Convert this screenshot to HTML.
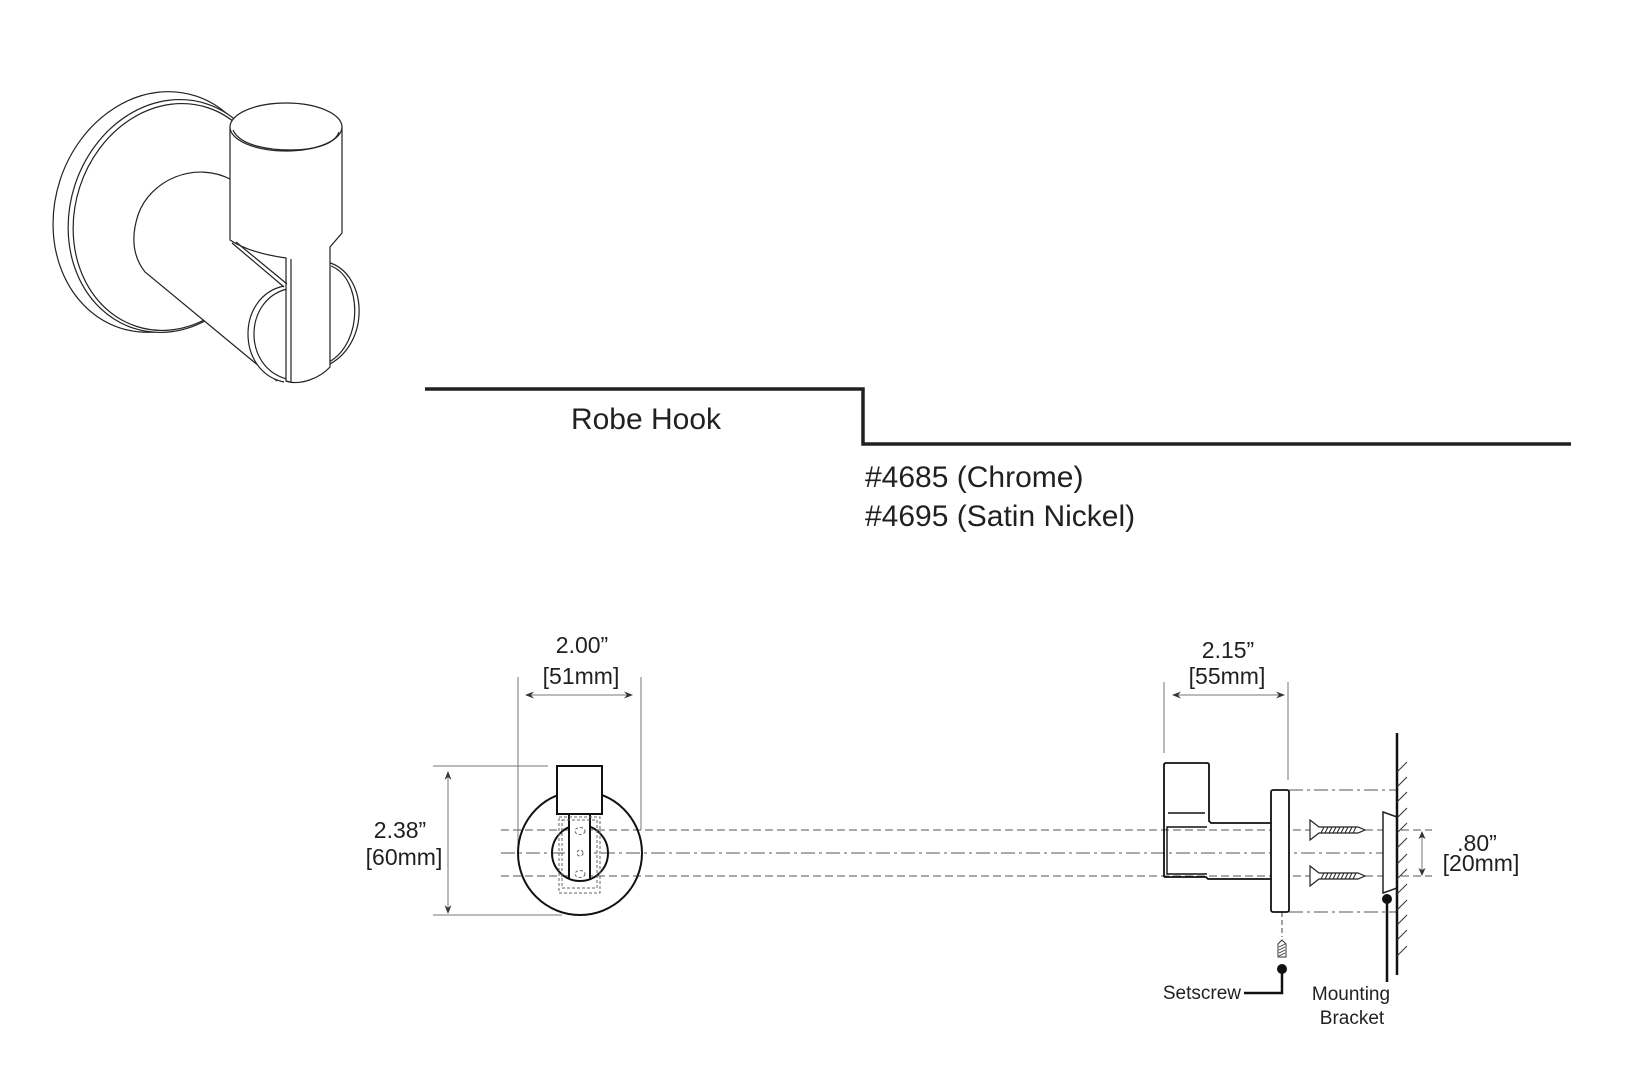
<!DOCTYPE html>
<html><head><meta charset="utf-8"><style>
html,body{margin:0;padding:0;background:#fff;}
svg{display:block;}
text{font-family:"Liberation Sans",Arial,sans-serif;fill:#231f20;}
</style></head><body>
<svg width="1625" height="1080" viewBox="0 0 1625 1080" xmlns="http://www.w3.org/2000/svg">
<rect width="1625" height="1080" fill="#fff"/>

<!-- ISO drawing -->
<g stroke="#222" stroke-width="1.2" fill="#fff">
  <ellipse cx="158" cy="212" rx="103" ry="122" transform="rotate(18 158 212)"/>
  <ellipse cx="170" cy="216" rx="100" ry="118" transform="rotate(18 170 216)"/>
  <ellipse cx="172" cy="217" rx="97" ry="115" transform="rotate(18 172 217)" fill="none"/>
  <path d="M232,180 C195,160 150,180 138,215 C130,240 134,258 145,272 L277,381 L330,367 L342,233 L342,180 Z" stroke="none"/>
  <path d="M232,180 C195,160 150,180 138,215 C130,240 134,258 145,272 L277,381" fill="none"/>
  <path d="M327,262 C368,272 372,345 326,366"/>
  <path d="M331,266 C362,278 364,342 329,362" fill="none"/>
  <path d="M284,286 C236,296 236,372 284,382"/>
  <path d="M287,289 C243,300 243,368 287,379" fill="none"/>
  <path d="M230,127 L230,240 C245,250 265,255 286,258 L286,381 C300,386 320,378 330,367 L330,247 L342,233 L342,127 Z"/>
  <path d="M291,259 L291,382" fill="none"/>
  <path d="M232,243 L284,287 M236,242 L287,284" fill="none"/>
  <ellipse cx="286" cy="127" rx="56" ry="24"/>
  <path d="M233,130 C240,146 270,150 290,150 C315,150 335,144 339,132" fill="none"/>
</g>

<!-- Title -->
<path d="M425,389 L863,389 L863,444 L1571,444" fill="none" stroke="#231f20" stroke-width="3.5"/>
<text x="646" y="429" font-size="30" text-anchor="middle">Robe Hook</text>
<text x="865" y="487" font-size="30">#4685 (Chrome)</text>
<text x="865" y="526" font-size="30">#4695 (Satin Nickel)</text>

<!-- Dashed centre lines -->
<g fill="none" stroke="#555" stroke-width="1.1">
  <path d="M501,830 H1432 M501,876 H1432" stroke-dasharray="8 4"/>
  <path d="M501,853 H1383" stroke-dasharray="14 4 3 4"/>
  <path d="M1289,790 H1397 M1289,912 H1397" stroke-dasharray="14 4 3 4"/>
  <path d="M1282,912 V937" stroke-dasharray="5 3"/>
</g>

<!-- Front view dims -->
<g fill="none" stroke="#777" stroke-width="1">
  <path d="M518,677 V845 M641,677 V830"/>
  <path d="M433,766 H548 M433,915 H562"/>
  <path d="M527,695 H631"/>
  <path d="M448,774 V911"/>
  <path d="M1164,682 V753 M1288,682 V780"/>
  <path d="M1174,695 H1283"/>
  <path d="M1422,833 V873"/>
</g>
<g fill="#333">
  <polygon points="525,695 534,691.5 531,695 534,698.5"/>
  <polygon points="633,695 624,691.5 627,695 624,698.5"/>
  <polygon points="448,771 444.5,780 448,777 451.5,780"/>
  <polygon points="448,914 444.5,905 448,908 451.5,905"/>
  <polygon points="1172,695 1181,691.5 1178,695 1181,698.5"/>
  <polygon points="1285,695 1276,691.5 1279,695 1276,698.5"/>
  <polygon points="1422,831 1418.5,839 1422,837 1425.5,839"/>
  <polygon points="1422,876 1418.5,868 1422,870 1425.5,868"/>
</g>

<text x="582" y="653" font-size="23" text-anchor="middle">2.00”</text>
<text x="581" y="684" font-size="23" text-anchor="middle">[51mm]</text>
<text x="400" y="838" font-size="23" text-anchor="middle">2.38”</text>
<text x="404" y="865" font-size="23" text-anchor="middle">[60mm]</text>
<text x="1228" y="658" font-size="23" text-anchor="middle">2.15”</text>
<text x="1227" y="684" font-size="23" text-anchor="middle">[55mm]</text>
<text x="1477" y="851" font-size="23" text-anchor="middle">.80”</text>
<text x="1481" y="871" font-size="23" text-anchor="middle">[20mm]</text>

<!-- Front view part -->
<g fill="none" stroke="#111" stroke-width="2">
  <circle cx="580" cy="853" r="62"/>
  <circle cx="580" cy="853" r="28"/>
</g>
<rect x="570" y="814" width="19" height="64" fill="#fff"/>
<g fill="none" stroke="#111" stroke-width="2">
  <path d="M569,814 V879 M590,814 V879"/>
  <rect x="557" y="766" width="45" height="48" fill="#fff"/>
</g>
<g fill="none" stroke="#666" stroke-width="1" stroke-dasharray="3 2">
  <rect x="559" y="817" width="41" height="76"/>
  <rect x="562" y="820" width="35" height="68"/>
  <ellipse cx="580" cy="831" rx="5" ry="3.5"/>
  <ellipse cx="580" cy="874" rx="5" ry="3.5"/>
  <circle cx="580" cy="853" r="3"/>
</g>

<!-- Side view -->
<g fill="none" stroke="#111" stroke-width="1.8">
  <path d="M1164,877 V765 Q1164,763 1166,763 H1207 Q1209,763 1209,765 V821 L1211,823 H1271"/>
  <path d="M1164,877 H1206 L1208,879 H1271"/>
  <path d="M1207,827 H1167 V874 H1207" stroke-width="1.4"/>
  <path d="M1168,813 H1205" stroke-width="1.6"/>
  <rect x="1271" y="790" width="18" height="122" rx="2" fill="#fff"/>
</g>

<!-- Screws -->
<g fill="#fff" stroke="#222" stroke-width="1.2">
  <path d="M1310,820 V840 L1319,833 H1358 L1365,830 L1358,827 H1319 Z"/>
  <path d="M1310,866 V886 L1319,879 H1358 L1365,876 L1358,873 H1319 Z"/>
</g>
<g stroke="#222" stroke-width="1">
  <path d="M1321,833 L1324,827 M1325,833 L1328,827 M1329,833 L1332,827 M1333,833 L1336,827 M1337,833 L1340,827 M1341,833 L1344,827 M1345,833 L1348,827 M1349,833 L1352,827 M1353,833 L1356,827"/>
  <path d="M1321,879 L1324,873 M1325,879 L1328,873 M1329,879 L1332,873 M1333,879 L1336,873 M1337,879 L1340,873 M1341,879 L1344,873 M1345,879 L1348,873 M1349,879 L1352,873 M1353,879 L1356,873"/>
</g>

<!-- Mounting bracket and wall -->
<path d="M1397,817 L1383,812 V893 L1397,888" fill="#fff" stroke="#222" stroke-width="1.5"/>
<path d="M1397,733 V975" stroke="#111" stroke-width="2.5"/>
<g stroke="#333" stroke-width="1">
  <path d="M1397,772 l10,-10 M1397,787 l10,-10 M1397,802 l10,-10 M1397,818 l10,-10 M1397,833 l10,-10 M1397,848 l10,-10 M1397,864 l10,-10 M1397,879 l10,-10 M1397,894 l10,-10 M1397,910 l10,-10 M1397,925 l10,-10 M1397,940 l10,-10 M1397,956 l10,-10"/>
</g>
<circle cx="1387" cy="899" r="5" fill="#111"/>
<path d="M1387,899 V982" stroke="#111" stroke-width="2.5"/>
<text x="1351" y="1000" font-size="19" text-anchor="middle">Mounting</text>
<text x="1352" y="1024" font-size="19" text-anchor="middle">Bracket</text>

<!-- Setscrew -->
<path d="M1278,957 V944 L1282,940 L1286,944 V957 Z" fill="#fff" stroke="#333" stroke-width="1"/>
<path d="M1279,947 L1285,944 M1279,950 L1285,947 M1279,953 L1285,950 M1279,956 L1285,953" stroke="#333" stroke-width="0.8"/>
<circle cx="1282" cy="969" r="5" fill="#111"/>
<path d="M1282,969 V993 H1244" fill="none" stroke="#111" stroke-width="2.5"/>
<text x="1241" y="999" font-size="19" text-anchor="end">Setscrew</text>
</svg>
</body></html>
